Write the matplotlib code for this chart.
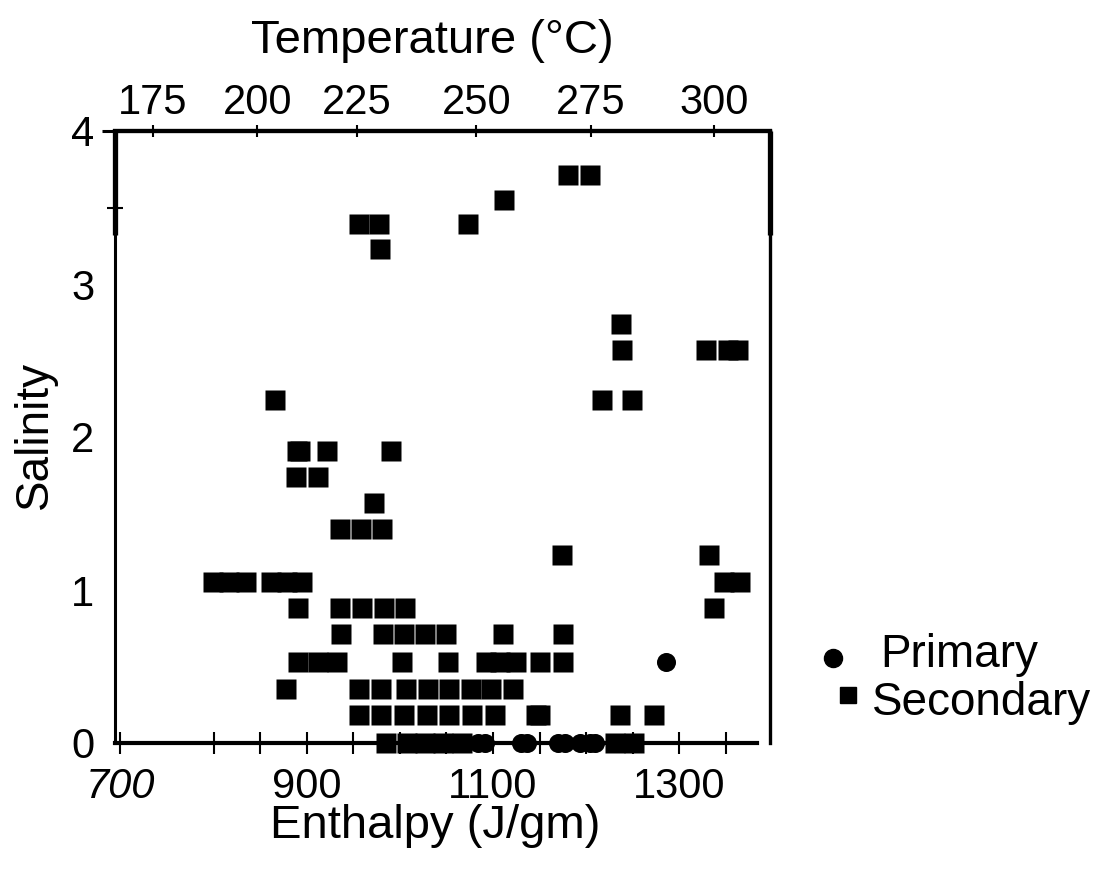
import matplotlib
matplotlib.use('Agg')
import matplotlib.pyplot as plt
from matplotlib.lines import Line2D

plt.rcParams['font.family'] = ['Liberation Sans', 'DejaVu Sans']

# ---- data (enthalpy J/gm, salinity) ----
sec_levels = [3.71, 3.55, 3.39, 3.23, 2.74, 2.57, 2.24, 1.91, 1.74, 1.57,
              1.40, 1.23, 1.05, 0.88, 0.71, 0.53, 0.35, 0.18, 0.0]
sec_rows = [
    [1181, 1204],
    [1112],
    [956, 978, 1073],
    [979],
    [1237],
    [1238, 1329, 1352, 1363],
    [866, 1217, 1249],
    [890, 893, 922, 991],
    [889, 912],
    [972],
    [936, 958, 981],
    [1174, 1332],
    [799, 817, 835, 862, 879, 895, 1348, 1365],
    [891, 936, 959, 983, 1006, 1337],
    [937, 982, 1004, 1027, 1050, 1111, 1175],
    [891, 912, 932, 1002, 1052, 1092, 1108, 1125, 1150, 1175],
    [878, 956, 980, 1007, 1030, 1053, 1076, 1098, 1121],
    [956, 980, 1004, 1029, 1053, 1078, 1102, 1146, 1151, 1236, 1273],
    [985, 1008, 1027, 1046, 1067, 1231, 1251],
]
pri_enthalpy = [1084, 1091, 1130, 1137, 1170, 1177, 1193, 1204, 1209, 1286]
pri_salinity = [0, 0, 0, 0, 0, 0, 0, 0, 0, 0.53]

x_major = [700, 900, 1100, 1300]
x_minor = [800, 850, 950, 1000, 1050, 1150, 1200, 1250, 1350]
y_major = [0, 1, 2, 3, 4]
temp_tick_enthalpy = [735, 847, 954, 1082, 1205, 1337]
temp_labels = ['175', '200', '225', '250', '275', '300']

W, H = 1106, 873
fig = plt.figure(figsize=(W / 100, H / 100), dpi=100)
ax = fig.add_axes([115 / W, 1 - 743 / H, 655 / W, 612 / H])
ax.set_xlim(694.2, 1397.4)
ax.set_ylim(0, 4)

for y, xs in zip(sec_levels, sec_rows):
    ax.plot(xs, [y] * len(xs), linestyle='none', marker='s', ms=14.4,
            color='black', mec='none', clip_on=False, zorder=3)
ax.plot(pri_enthalpy, pri_salinity, linestyle='none', marker='o', ms=13.7,
        color='black', mec='none', clip_on=False, zorder=3)

# spines
ax.spines['bottom'].set_bounds(694.2, 1383)
ax.spines['bottom'].set_linewidth(3)
ax.spines['left'].set_linewidth(2.2)
ax.spines['right'].set_linewidth(2.4)
ax.spines['top'].set_linewidth(3)
yt = ax.get_yaxis_transform()
for xa in (0, 1):
    ax.plot([xa, xa], [3.32, 4], transform=yt, lw=3.8, color='black',
            clip_on=False, solid_capstyle='butt', zorder=4)
ax.plot([-13 / 655, 0], [4, 4], transform=yt, lw=2.2, color='black',
        clip_on=False, solid_capstyle='butt')

# y ticks
ax.set_yticks(y_major, [str(v) for v in y_major])
ax.set_yticks([3.5], minor=True)
ax.tick_params(axis='y', which='major', length=0, pad=15, labelsize=30)
ax.tick_params(axis='y', which='minor', direction='inout', length=12, width=1.5)

# x ticks
ax.set_xticks(x_major, [str(v) for v in x_major])
ax.set_xticks(x_minor, minor=True)
ax.tick_params(axis='x', which='both', direction='inout', length=16, width=1.5)
ax.tick_params(axis='x', which='major', labelsize=30, pad=9)
for lab in ax.get_xticklabels():
    if lab.get_text() == '700':
        lab.set_style('italic')

# top temperature axis
sec = ax.secondary_xaxis('top')
sec.set_xticks(temp_tick_enthalpy, temp_labels)
sec.tick_params(direction='inout', length=8, width=1.5, labelsize=30, pad=2)
sec.spines['top'].set_linewidth(3)

# axis titles
fig.text(432 / W, 1 - 53 / H, 'Temperature (°C)', fontsize=34,
         ha='center', va='baseline')
fig.text(435 / W, 1 - 838 / H, 'Enthalpy (J/gm)', fontsize=34,
         ha='center', va='baseline')
fig.text(35 / W, 1 - 435 / H, 'Salinity', fontsize=33, rotation=90,
         ha='center', va='center')

# legend
fig.add_artist(Line2D([832.5 / W], [1 - 658 / H], marker='o', ms=13,
                      color='black', linestyle='none', transform=fig.transFigure))
fig.add_artist(Line2D([847.7 / W], [1 - 695 / H], marker='s', ms=12,
                      color='black', linestyle='none', transform=fig.transFigure))
fig.text(880 / W, 1 - 667 / H, 'Primary', fontsize=33, ha='left', va='baseline')
fig.text(872 / W, 1 - 715 / H, 'Secondary', fontsize=33, ha='left', va='baseline')

fig.savefig('out.png', dpi=100, facecolor='white')
